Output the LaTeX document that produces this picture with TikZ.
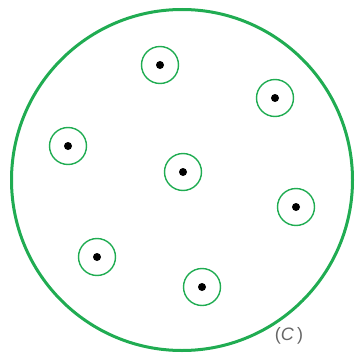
\documentclass[tikz,border=0pt]{standalone}
\usepackage{fontspec}
\setmainfont{Liberation Sans}
\usepackage{xcolor}
\usepackage{tikz}
\usetikzlibrary{positioning}
\definecolor{ringgreen}{RGB}{32,172,82}

\begin{document}
\begin{tikzpicture}[
				x=1pt, y=-1pt,
				outer/.style={circle, draw=ringgreen, line width=3pt, minimum size=341pt, inner sep=0pt},
				ring/.style={circle, draw=ringgreen, line width=1.4pt, minimum size=37pt, inner sep=0pt},
				charge/.style={circle, fill=black, minimum size=8pt, inner sep=0pt},
				label/.style={font=\fontsize{18}{20}\selectfont, text=black!60}
				]
				
				\useasboundingbox (0,0) rectangle (354,356);
				
				% Outer boundary
				\node[outer] (sphere) at (182,180) {};
				
				% Small rings with point charges
				\node[ring] (r1) at (160,65) {};
				\node[ring] (r2) at (275,98) {};
				\node[ring] (r3) at (68,146) {};
				\node[ring] (r4) at (183,172) {};
				\node[ring] (r5) at (296,207) {};
				\node[ring] (r6) at (97,257) {};
				\node[ring] (r7) at (202,287) {};
				
				\node[charge] (q1) at (r1) {};
				\node[charge] (q2) at (r2) {};
				\node[charge] (q3) at (r3) {};
				\node[charge] (q4) at (r4) {};
				\node[charge] (q5) at (r5) {};
				\node[charge] (q6) at (r6) {};
				\node[charge] (q7) at (r7) {};
				
				% Caption
				\node[label] (tag) at (289,336) {(\textit{C}\,)};
				
\end{tikzpicture}
\end{document}
